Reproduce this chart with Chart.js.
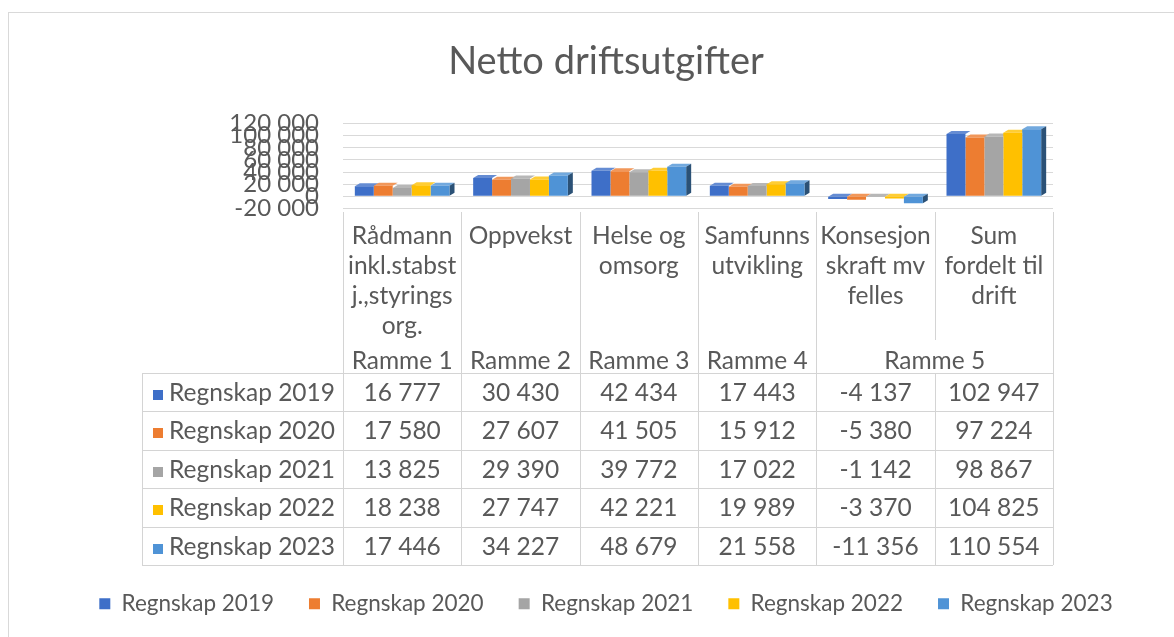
<!DOCTYPE html>
<html>
<head>
<meta charset="utf-8">
<script src="https://cdn.jsdelivr.net/npm/chart.js@4.4.0/dist/chart.umd.min.js"></script>
<style>
  body { margin: 0; background: #fff; font-family: Lato, sans-serif; color: #595959; }
  #wrap { position: relative; width: 1174px; height: 637px; overflow: hidden; }
  #frame { position: absolute; left: 8px; top: 12px; width: 1200px; height: 700px;
           border-left: 1px solid #d9d9d9; border-top: 1px solid #d9d9d9; }
  canvas { position: absolute; left: 0; top: 0; }
  .vl { position: absolute; width: 0; border-left: 1px solid #d4d4d4; }
  .hl { position: absolute; height: 0; border-top: 1px solid #d4d4d4; }
  .cell { position: absolute; text-align: center; font-size: 24.5px; white-space: nowrap; }
  .key { display: inline-block; width: 10px; height: 10px; margin-right: 6px; vertical-align: 1px; }
</style>
</head>
<body>
<div id="wrap">
  <div id="frame"></div>
  <canvas id="myChart" width="1174" height="637"></canvas>
  <div id="table"></div>
</div>
<script>
// categories (header lines as shown in the data table)
const categories = [
  ['Rådmann', 'inkl.stabst', 'j.,styrings', 'org.'],
  ['Oppvekst'],
  ['Helse og', 'omsorg'],
  ['Samfunns', 'utvikling'],
  ['Konsesjon', 'skraft mv', 'felles'],
  ['Sum', 'fordelt  til', 'drift']
]
const rammer = ['Ramme 1', 'Ramme 2', 'Ramme 3', 'Ramme 4', 'Ramme 5']
const rammeSpan = [1, 1, 1, 1, 2]

const seriesNames = ['Regnskap 2019', 'Regnskap 2020', 'Regnskap 2021', 'Regnskap 2022', 'Regnskap 2023']
const regnskap2019 = [16777, 30430, 42434, 17443, -4137, 102947]
const regnskap2020 = [17580, 27607, 41505, 15912, -5380, 97224]
const regnskap2021 = [13825, 29390, 39772, 17022, -1142, 98867]
const regnskap2022 = [18238, 27747, 42221, 19989, -3370, 104825]
const regnskap2023 = [17446, 34227, 48679, 21558, -11356, 110554]
const seriesValues = [regnskap2019, regnskap2020, regnskap2021, regnskap2022, regnskap2023]

const yTicks = [-20000, 0, 20000, 40000, 60000, 80000, 100000, 120000]

const colors = ['#3E6FC8', '#ED7D31', '#A5A5A5', '#FFC000', '#4F93D6']
const textColor = '#595959'

function fmt(v) {
  const s = Math.abs(v).toString().replace(/\B(?=(\d{3})+(?!\d))/g, '\u00a0')
  return (v < 0 ? '-' : '') + s
}

function shade(hex, amt) {
  const n = parseInt(hex.slice(1), 16)
  let r = n >> 16, g = (n >> 8) & 255, b = n & 255
  const f = c => Math.round(amt < 0 ? c * (1 + amt) : c + (255 - c) * amt)
  return 'rgb(' + f(r) + ',' + f(g) + ',' + f(b) + ')'
}

// little 3d look: top faces + side of the last bar, drawn before the bars
const bar3d = {
  id: 'bar3d',
  beforeDatasetsDraw(chart) {
    const ctx = chart.ctx
    const d = 5, dy = 3
    const last = chart.data.datasets.length - 1
    chart.data.datasets.forEach((ds, di) => {
      chart.getDatasetMeta(di).data.forEach(bar => {
        const p = bar.getProps(['x', 'y', 'base', 'width'], true)
        const l = p.x - p.width / 2, r = p.x + p.width / 2
        const top = Math.min(p.y, p.base), bottom = Math.max(p.y, p.base)
        ctx.save()
        ctx.fillStyle = shade(ds.backgroundColor, 0.2)
        ctx.beginPath()
        ctx.moveTo(l, top); ctx.lineTo(l + d, top - dy); ctx.lineTo(r + d, top - dy); ctx.lineTo(r, top)
        ctx.closePath(); ctx.fill()
        if (di === last) {
          ctx.fillStyle = shade(ds.backgroundColor, -0.45)
          ctx.beginPath()
          ctx.moveTo(r, top); ctx.lineTo(r + d, top - dy); ctx.lineTo(r + d, bottom - dy); ctx.lineTo(r, bottom)
          ctx.closePath(); ctx.fill()
        }
        ctx.restore()
      })
    })
  }
}

const ctx = document.getElementById('myChart').getContext('2d')

const chart = new Chart(ctx, {
  type: 'bar',
  data: {
    labels: categories.map(c => c.join(' ')),
    datasets: seriesNames.map((name, i) => ({
      label: name,
      data: seriesValues[i],
      backgroundColor: colors[i],
      categoryPercentage: 0.8,
      barPercentage: 1.0
    }))
  },
  options: {
    responsive: false,
    animation: false,
    layout: { padding: { left: 38, right: 0, top: 39, bottom: 12 } },
    plugins: {
      title: {
        display: true,
        text: 'Netto driftsutgifter',
        color: textColor,
        font: { family: 'Lato', size: 38, weight: 'normal' },
        padding: { top: 0, bottom: 39 }
      },
      legend: {
        position: 'bottom',
        labels: {
          color: textColor,
          font: { family: 'Lato', size: 22.5 },
          boxWidth: 11,
          boxHeight: 11,
          padding: 35
        }
      },
      tooltip: { enabled: false }
    },
    scales: {
      x: {
        grid: { display: false },
        border: { display: false },
        ticks: { display: false },
        afterFit: scale => { scale.height = 349 }
      },
      y: {
        min: -20000,
        max: 120000,
        afterBuildTicks: axis => { axis.ticks = yTicks.map(v => ({ value: v })) },
        grid: { color: '#d9d9d9', drawTicks: false },
        border: { display: false },
        ticks: {
          autoSkip: false,
          padding: 24,
          color: textColor,
          font: { family: 'Lato', size: 24 },
          callback: v => fmt(v)
        },
        afterFit: scale => { scale.width = 305 }
      },
      yr: {
        position: 'right',
        grid: { display: false },
        border: { display: false },
        ticks: { display: false },
        afterFit: scale => { scale.width = 121 }
      }
    }
  },
  plugins: [bar3d]
})

// data table under the plot, columns taken from the x scale
const table = document.getElementById('table')
const area = chart.chartArea
const step = (area.right - area.left) / categories.length
const edges = categories.map((c, i) => area.left + i * step).concat([area.right])
const tableLeft = 142, headTop = 212, rowTop = 373, rowH = 38.4

function add(cls, style, html) {
  const el = document.createElement('div')
  el.className = cls
  Object.assign(el.style, style)
  if (html) el.innerHTML = html
  table.appendChild(el)
}

categories.forEach((lines, i) => {
  add('cell', { left: edges[i] + 'px', top: headTop + 'px', width: step + 'px',
    lineHeight: '30px', paddingTop: '8px' }, lines.join('<br>'))
})

let col = 0
rammer.forEach((name, i) => {
  const w = step * rammeSpan[i]
  add('cell', { left: edges[col] + 'px', top: '345px', width: w + 'px', lineHeight: '30px' }, name)
  col += rammeSpan[i]
})

edges.forEach((x, i) => {
  const end = (i === 5) ? 340 : rowTop
  add('vl', { left: x + 'px', top: headTop + 'px', height: (end - headTop) + 'px' })
})

const rowsBottom = rowTop + rowH * seriesNames.length
;[tableLeft].concat(edges).forEach(x => {
  add('vl', { left: x + 'px', top: rowTop + 'px', height: (rowsBottom - rowTop) + 'px' })
})
for (let r = 0; r <= seriesNames.length; r++) {
  add('hl', { left: tableLeft + 'px', top: (rowTop + r * rowH) + 'px', width: (area.right - tableLeft) + 'px' })
}

seriesNames.forEach((name, r) => {
  const top = rowTop + r * rowH
  add('cell', { left: (tableLeft + 11) + 'px', top: top + 'px', lineHeight: rowH + 'px', textAlign: 'left' },
    '<span class="key" style="background:' + colors[r] + '"></span>' + name)
  seriesValues[r].forEach((v, i) => {
    add('cell', { left: edges[i] + 'px', top: top + 'px', width: step + 'px', lineHeight: rowH + 'px' }, fmt(v))
  })
})
</script>
</body>
</html>
